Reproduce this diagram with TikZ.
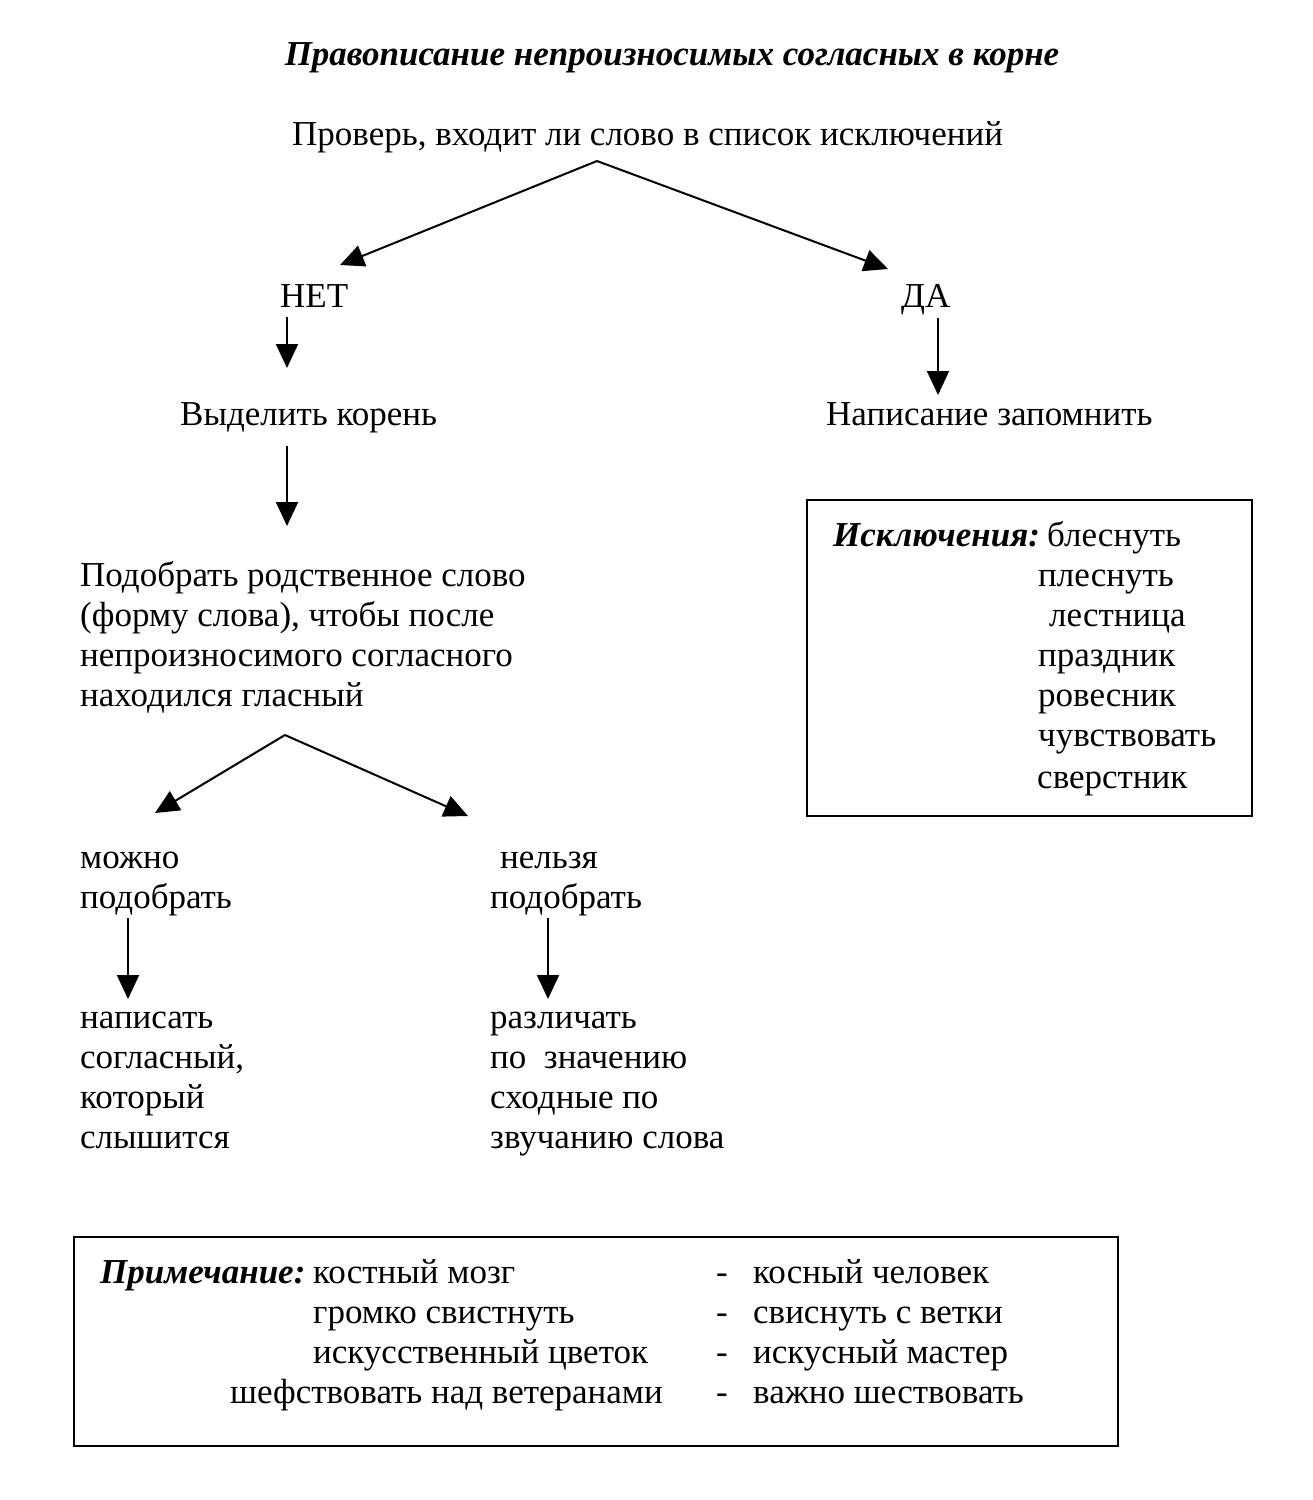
\documentclass[tikz,border=0pt]{standalone}
\usepackage{fontspec}
\setmainfont{Liberation Serif}
\usetikzlibrary{arrows.meta}
\begin{document}
\begin{tikzpicture}[x=1pt,y=-1pt,
  txt/.style={anchor=base west,inner sep=0pt,font=\fontsize{35}{40}\selectfont},
  ttl/.style={anchor=base,inner sep=0pt,font=\fontsize{35}{40}\selectfont\bfseries\itshape},
  arr/.style={line width=2pt,-{Triangle[length=24pt,width=22pt]}},
  frame/.style={draw,line width=2pt}]
\useasboundingbox (0,0) rectangle (1313,1500);
\fill[white] (0,0) rectangle (1313,1500);
% title
\node[ttl] (title) at (672,65) {Правописание непроизносимых согласных в корне};
\node[txt] (check) at (292,145) {Проверь, входит ли слово в список исключений};
\node[txt] (net) at (280,307) {НЕТ};
\node[txt] (da) at (901,307) {ДА};
\node[txt] (root) at (180,425) {Выделить корень};
\node[txt] (remember) at (826,425) {Написание запомнить};
\node[txt] (p1) at (80,586) {Подобрать родственное слово};
\node[txt] (p2) at (80,626) {(форму слова), чтобы после};
\node[txt] (p3) at (80,666) {непроизносимого согласного};
\node[txt] (p4) at (80,706) {находился гласный};
\node[txt] (can1) at (80,868) {можно};
\node[txt] (can2) at (80,908) {подобрать};
\node[txt] (cannot1) at (500,868) {нельзя};
\node[txt] (cannot2) at (490,908) {подобрать};
\node[txt] (w1) at (80,1028) {написать};
\node[txt] (w2) at (80,1068) {согласный,};
\node[txt] (w3) at (80,1108) {который};
\node[txt] (w4) at (80,1148) {слышится};
\node[txt] (d1) at (490,1028) {различать};
\node[txt] (d2) at (490,1068) {по\ \ значению};
\node[txt] (d3) at (490,1108) {сходные по};
\node[txt] (d4) at (490,1148) {звучанию слова};
% exceptions box
\draw[frame] (807,500) rectangle (1252,816);
\node[txt,font=\fontsize{35}{40}\selectfont\bfseries\itshape] (exc) at (833,546) {Исключения:};
\node[txt] (e1) at (1047,546) {блеснуть};
\node[txt] (e2) at (1038,586) {плеснуть};
\node[txt] (e3) at (1049,626) {лестница};
\node[txt] (e4) at (1038,666) {праздник};
\node[txt] (e5) at (1038,706) {ровесник};
\node[txt] (e6) at (1038,746) {чувствовать};
\node[txt] (e7) at (1037,788) {сверстник};
% note box
\draw[frame] (74,1237) rectangle (1118,1446);
\node[txt,font=\fontsize{35}{40}\selectfont\bfseries\itshape] (note) at (100,1283) {Примечание:};
\node[txt] (n1) at (313,1283) {костный мозг};
\node[txt] (n2) at (313,1323) {громко свистнуть};
\node[txt] (n3) at (313,1363) {искусственный цветок};
\node[txt] (n4) at (230,1403) {шефствовать над ветеранами};
\node[txt] (m1) at (716,1283) {-};
\node[txt] (m2) at (716,1323) {-};
\node[txt] (m3) at (716,1363) {-};
\node[txt] (m4) at (716,1403) {-};
\node[txt] (r1) at (753,1283) {косный человек};
\node[txt] (r2) at (753,1323) {свиснуть с ветки};
\node[txt] (r3) at (753,1363) {искусный мастер};
\node[txt] (r4) at (753,1403) {важно шествовать};
% arrow coordinates
\coordinate (a1) at (597,161);
\coordinate (netT) at (340,265);
\coordinate (daT) at (888,269);
\coordinate (netS) at (287,317);
\coordinate (netE) at (287,368);
\coordinate (daS) at (938,318);
\coordinate (daE) at (938,395);
\coordinate (rootS) at (287,446);
\coordinate (rootE) at (287,526);
\coordinate (a2) at (285,735);
\coordinate (canT) at (155,813);
\coordinate (cannotT) at (468,816);
\coordinate (canS) at (128,918);
\coordinate (canE) at (128,999);
\coordinate (cannotS) at (548,918);
\coordinate (cannotE) at (548,999);
\draw[arr] (a1) -- (netT);
\draw[arr] (a1) -- (daT);
\draw[arr] (netS) -- (netE);
\draw[arr] (daS) -- (daE);
\draw[arr] (rootS) -- (rootE);
\draw[arr] (a2) -- (canT);
\draw[arr] (a2) -- (cannotT);
\draw[arr] (canS) -- (canE);
\draw[arr] (cannotS) -- (cannotE);
\end{tikzpicture}
\end{document}
